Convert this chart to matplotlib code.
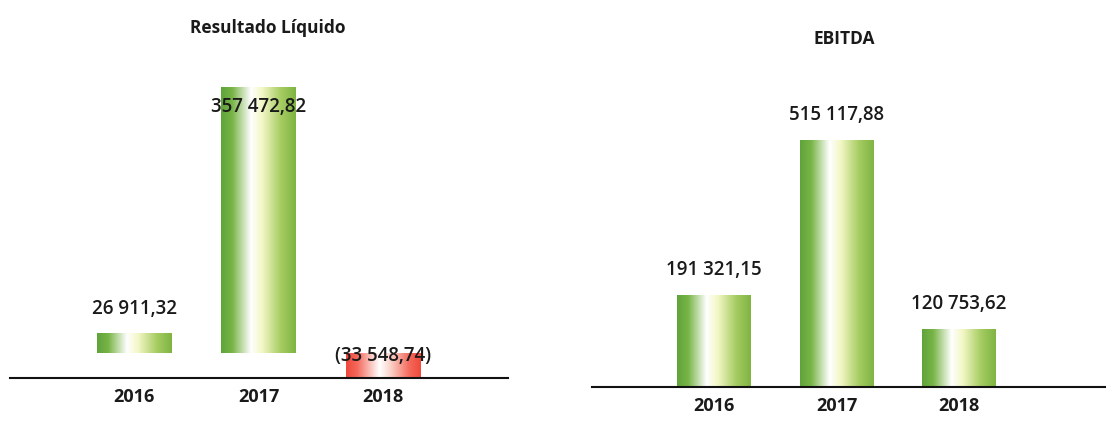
import numpy as np
import matplotlib
matplotlib.use("Agg")
import matplotlib.pyplot as plt
from matplotlib.colors import LinearSegmentedColormap

plt.rcParams['font.family'] = ['Open Sans', 'DejaVu Sans']

years = ["2016", "2017", "2018"]
resultado = [26911.32, 357472.82, -33548.74]
ebitda = [191321.15, 515117.88, 120753.62]
resultado_labels = ["26 911,32", "357 472,82", "(33 548,74)"]
ebitda_labels = ["191 321,15", "515 117,88", "120 753,62"]
titles = ["Resultado Líquido", "EBITDA"]

green_cmap = LinearSegmentedColormap.from_list(
    "g", [(0.0, "#5fa43a"), (0.15, "#78b447"), (0.40, "#ffffff"),
          (0.55, "#f3f7c6"), (0.8, "#a6cc62"), (1.0, "#7fb443")])
red_cmap = LinearSegmentedColormap.from_list(
    "r", [(0.0, "#f0463c"), (0.15, "#f46a5c"), (0.45, "#ffffff"),
          (0.6, "#fbd0c8"), (0.85, "#f4685a"), (1.0, "#ef4a3e")])

fig = plt.figure(figsize=(11.06, 4.25), dpi=100)
ax1 = fig.add_axes([0.009, 0.1106, 0.450, 0.759])
ax2 = fig.add_axes([0.535, 0.0894, 0.465, 0.677])

grad = np.linspace(0, 1, 256).reshape(1, -1)


def draw(ax, vals, labels, title, ylim, xlim, offsets, title_pos):
    x = np.arange(len(vals))
    bars = ax.bar(x, vals, width=0.6, color="none", edgecolor="none", zorder=2)
    ax.set_xlim(*xlim)
    ax.set_ylim(*ylim)
    for b, v in zip(bars, vals):
        x0, y0 = b.get_x(), b.get_y()
        w, h = b.get_width(), b.get_height()
        cmap = green_cmap if v >= 0 else red_cmap
        im = ax.imshow(grad, cmap=cmap, aspect="auto",
                       extent=[x0, x0 + w, min(y0, y0 + h), max(y0, y0 + h)],
                       zorder=2)
        im.set_clip_path(b)
    ax.set_xlim(*xlim)
    ax.set_ylim(*ylim)
    for xi, v, lab, off in zip(x, vals, labels, offsets):
        top = max(v, 0)
        ax.annotate(lab, (xi, top), xytext=(0, off), textcoords="offset points",
                    ha="center", va="center", fontsize=13.5, fontweight="semibold",
                    color="#1a1a1a", zorder=5)
    ax.set_xticks(x)
    ax.set_xticklabels(years, fontsize=13, fontweight="bold", color="#1a1a1a")
    ax.tick_params(axis="x", length=0, pad=7)
    ax.set_yticks([])
    for s in ["left", "right", "top"]:
        ax.spines[s].set_visible(False)
    ax.spines["bottom"].set_linewidth(1.5)
    ax.spines["bottom"].set_color("#111111")
    ax.patch.set_alpha(0)
    fig.text(title_pos[0], title_pos[1], title, ha="center", va="center",
             fontsize=12.5, fontweight="bold", color="#1a1a1a")


draw(ax1, resultado, resultado_labels, titles[0],
     (-33548.74, 400000), (-1.0, 3.0), [17, -14, -2], (0.242, 0.934))
draw(ax2, ebitda, ebitda_labels, titles[1],
     (0, 600000), (-1.0, 3.2), [18, 18, 18], (0.763, 0.908))

fig.savefig("out.png", dpi=100, facecolor="white")
